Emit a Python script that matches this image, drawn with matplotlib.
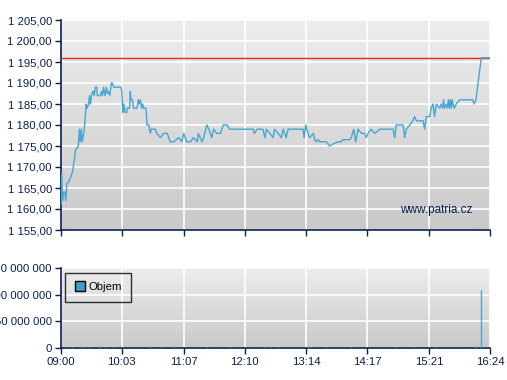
import numpy as np
import matplotlib
matplotlib.use("Agg")
import matplotlib.pyplot as plt
from matplotlib.lines import Line2D

plt.rcParams["font.family"] = ["Liberation Sans", "DejaVu Sans"]

# ── price trace: (minutes since 09:00, price) ──
morning = [(0, 1161), (0.8, 1168.5), (1.6, 1162), (2.5, 1164), (4, 1164), (5, 1162),
           (6, 1166), (8, 1166.5), (10, 1167.5), (12, 1169), (14, 1172), (15, 1174),
           (16.5, 1174.5), (18, 1175), (19, 1179), (20, 1176), (21, 1179), (22, 1176),
           (23.5, 1178), (24.5, 1180), (26, 1185), (27, 1184), (28.6, 1185),
           (29.5, 1187), (30.5, 1185), (31.5, 1187), (33, 1188), (34, 1188),
           (34.5, 1187), (35.5, 1189), (37, 1189), (37.5, 1187), (39, 1187),
           (40.7, 1187), (42, 1188), (43, 1187), (44, 1189), (45.5, 1187), (47, 1189),
           (48, 1187.5), (49, 1188), (50.5, 1187), (52, 1190), (53, 1190),
           (54.5, 1189), (60, 1189), (62, 1189), (63, 1188), (64, 1183), (65, 1185),
           (66.5, 1183), (68, 1183), (68.5, 1184), (71, 1184), (71.7, 1188),
           (72.5, 1186), (74, 1186), (75, 1184), (78.6, 1184), (80, 1186), (81, 1185),
           (82, 1186), (83.5, 1184), (84.5, 1185), (85.5, 1184), (88, 1184)]
midday = [(89, 1180), (91, 1180), (92.4, 1178), (93.5, 1179), (97.6, 1179), (99, 1178),
          (103, 1177), (106, 1178), (110, 1178), (113, 1176), (116.6, 1176),
          (121.7, 1177), (125, 1176), (127, 1178), (130, 1176), (134, 1176),
          (137, 1177), (141, 1176), (142, 1178), (146, 1176), (147.6, 1177),
          (151, 1180), (153, 1179), (156, 1177), (158, 1179), (161, 1178), (165, 1178),
          (166.5, 1179), (168, 1180), (172, 1180), (174.5, 1179), (199, 1179),
          (200, 1178), (203, 1179), (205, 1179), (209, 1179), (211, 1177),
          (212.6, 1179), (216, 1178), (219.5, 1177), (221, 1179), (224.7, 1178),
          (228, 1177), (230, 1179), (233, 1177), (235, 1179), (238.5, 1179),
          (250.5, 1179), (251.6, 1177), (253.3, 1180), (255.7, 1178), (257.4, 1177),
          (261, 1178), (262.6, 1176.5), (264, 1176), (266, 1176.5), (267.8, 1176),
          (274.7, 1176), (278, 1175), (281.6, 1175.5), (286.8, 1176), (290, 1176),
          (292, 1176.5), (298.8, 1176.5)]
afternoon = [(300.5, 1177), (303, 1179), (305, 1176), (307.4, 1179), (311, 1178),
             (314, 1178), (316, 1177), (317.8, 1178), (321, 1179), (324.7, 1178),
             (330, 1179), (343.7, 1179), (345.4, 1177), (347, 1180), (354, 1180),
             (355.7, 1177), (357.4, 1179), (361, 1180), (364, 1181), (366, 1182),
             (367.8, 1181), (374.7, 1181), (376.4, 1179), (378, 1182), (381.6, 1182),
             (383, 1184), (385, 1185), (386.6, 1182), (388.5, 1185), (392, 1184),
             (393.6, 1185), (395, 1184), (396, 1186), (397, 1184), (398.8, 1185),
             (400, 1184), (401, 1186), (402, 1184), (403, 1186), (404, 1184),
             (405, 1186), (405.7, 1185), (407, 1184), (409, 1185), (412.6, 1186),
             (426, 1186), (427.6, 1185), (429.5, 1186), (430, 1187), (435, 1196),
             (444, 1196)]
ref_price = 1196

vol_t = [5, 11, 21, 24, 29, 40, 47, 55, 64, 92, 103, 117, 151, 175, 210, 216, 225, 256,
         259, 273, 300, 346, 364, 388, 429, 435]
vol_v = [2e6, 1.5e6, 1e6, 1.5e6, 1e6, 3.5e6, 2.5e6, 2e6, 1.5e6, 4e6, 1.5e6, 4e6, 1.5e6,
         1e6, 1e6, 1e6, 1e6, 4e6, 2e6, 1e6, 2e6, 1e6, 1e6, 1.5e6, 3e6, 109e6]

time_ticks = [0, 63, 127, 190, 254, 317, 381, 444]
time_labels = ["09:00", "10:03", "11:07", "12:10", "13:14", "14:17", "15:21", "16:24"]
price_ticks = list(range(1155, 1206, 5))
vol_ticks = [0, 50e6, 100e6, 150e6]

NAVY = "#0a1f4f"
LINE = "#46a6d2"
FS = 8.2

trace = morning + midday + afternoon
price_t = [p[0] for p in trace]
price_v = [p[1] for p in trace]


def fmt_price(v):
    return f"{v:,.2f}".replace(",", " ").replace(".", ",")


def fmt_vol(v):
    return f"{int(v):,}".replace(",", " ")


def style(ax):
    grad = np.linspace(0, 1, 256).reshape(-1, 1)
    ax.imshow(grad, extent=[0, 1, 0, 1], transform=ax.transAxes, aspect="auto",
              cmap=matplotlib.colors.LinearSegmentedColormap.from_list(
                  "g", ["#ededed", "#c9c9c9"]), zorder=0)
    ax.grid(True, color="white", lw=1.2, zorder=1)
    for s in ["top", "right"]:
        ax.spines[s].set_visible(False)
    for s in ["left", "bottom"]:
        ax.spines[s].set_color(NAVY)
        ax.spines[s].set_linewidth(1.2)
    ax.tick_params(colors=NAVY, labelcolor=NAVY, labelsize=FS, length=4,
                   width=1, direction="out", pad=2.5)
    ax.set_xlim(0, 444)
    ax.set_xticks(time_ticks)


fig = plt.figure(figsize=(5.07, 3.8), dpi=100)
W, H = 507, 380
ax1 = fig.add_axes([61 / W, 1 - 230 / H, 429 / W, 210 / H])
ax2 = fig.add_axes([61 / W, 1 - 348 / H, 429 / W, 80 / H])

style(ax1)
ax1.set_ylim(1155, 1205)
ax1.set_yticks(price_ticks)
ax1.set_yticklabels([fmt_price(v) for v in price_ticks])
ax1.set_xticklabels([])
ax1.axhline(ref_price, color="#e02b2b", lw=1.0, zorder=3)
ax1.plot(price_t, price_v, color=LINE, lw=1.0, zorder=4)
ax1.text(0.96, 0.065, "www.patria.cz", transform=ax1.transAxes, ha="right",
         va="bottom", color=NAVY, fontsize=FS + 0.3, zorder=5)

style(ax2)
ax2.set_ylim(0, 150e6)
ax2.set_yticks(vol_ticks)
ax2.set_yticklabels([fmt_vol(v) for v in vol_ticks])
ax2.set_xticklabels(time_labels)
ax2.vlines(vol_t, 0, vol_v, color=LINE, lw=1, zorder=4)
handle = Line2D([], [], marker="s", ls="none", markerfacecolor="#3d9fd0",
                markeredgecolor="black", markersize=6.5)
leg = ax2.legend([handle], ["Objem"], loc="upper left", fontsize=FS,
                 frameon=True, fancybox=False, handletextpad=0.2,
                 borderpad=0.85, borderaxespad=0, bbox_to_anchor=(0.009, 0.94),
                 handlelength=1)
leg.get_frame().set_edgecolor("black")
leg.get_frame().set_facecolor("none")
leg.get_frame().set_linewidth(1)

fig.savefig("out.png", dpi=100)
